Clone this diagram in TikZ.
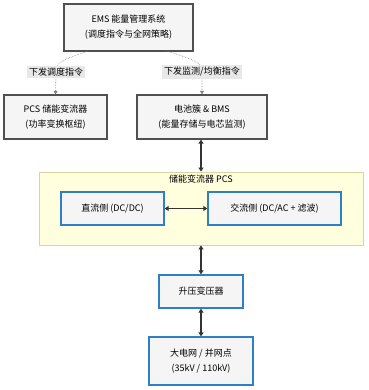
\documentclass[tikz,border=0pt]{standalone}
\usepackage{fontspec}
\setmainfont{Noto Sans CJK SC}
\usepackage{tikz}
\usepackage{xcolor}
\usetikzlibrary{arrows.meta, positioning, calc}
\definecolor{BoxGrey}{HTML}{F5F5F5}
\definecolor{EdgeGrey}{HTML}{505050}
\definecolor{SideBlue}{HTML}{2F7FC8}
\definecolor{PanelYellow}{HTML}{FFFFDE}
\definecolor{PanelEdge}{HTML}{D6D6A0}
\definecolor{TagGrey}{HTML}{E8E8E8}
\definecolor{LinkDark}{HTML}{333333}

\tikzset{
  greybox/.style={draw=EdgeGrey, line width=1.2pt, fill=BoxGrey, align=center, inner sep=0pt},
  bluebox/.style={draw=SideBlue, line width=1.2pt, fill=BoxGrey, align=center, inner sep=0pt},
  tag/.style={fill=TagGrey, inner xsep=2pt, inner ysep=2pt},
  cmdlink/.style={draw=gray, densely dotted, line width=0.6pt, -{Triangle[length=3.5pt,width=4pt]}},
  powerlink/.style={draw=LinkDark, line width=2pt, {Triangle[length=4pt,width=5pt]}-{Triangle[length=4pt,width=5pt]}}
}

\begin{document}
\begin{tikzpicture}[x=1pt, y=-1pt, font=\fontsize{9}{15}\selectfont]
\useasboundingbox (0,0) rectangle (368,390);
% --- control layer ---
\node[greybox, minimum width=129pt, minimum height=47pt] (ems) at (128.5,27.5) {EMS 能量管理系统\\(调度指令与全网策略)};
\node[greybox, minimum width=103pt, minimum height=44pt] (pcs) at (55.5,117) {PCS 储能变流器\\(功率变换枢纽)};
\node[greybox, minimum width=130pt, minimum height=44pt] (bat) at (202,117) {电池簇 \& BMS\\(能量存储与电芯监测)};
\coordinate (emsL) at (88,51);
\coordinate (emsR) at (167,51);
\draw[cmdlink] (emsL) .. controls (62,60) and (56,62) .. (56,72) -- (pcs.north);
\draw[cmdlink] (emsR) .. controls (194,60) and (202,62) .. (202,72) -- (bat.north);
\node[tag] (tagA) at (56,72) {下发调度指令};
\node[tag] (tagB) at (202,72) {下发监测/均衡指令};
% --- PCS subgraph ---
\node[draw=PanelEdge, line width=0.8pt, fill=PanelYellow, minimum width=324pt, minimum height=73pt, inner sep=0pt] (panel) at (201,208.5) {};
\node (panelT) at (201,179) {储能变流器 PCS};
\node[bluebox, minimum width=103pt, minimum height=33pt] (dc) at (112.5,208.5) {直流侧 (DC/DC)};
\node[bluebox, minimum width=133pt, minimum height=33pt] (ac) at (274.5,208.5) {交流侧 (DC/AC + 滤波)};
\draw[powerlink, line width=1.5pt] (dc) -- (ac);
% --- grid side ---
\node[bluebox, minimum width=84pt, minimum height=33pt] (trafo) at (201,291.5) {升压变压器};
\node[bluebox, minimum width=104pt, minimum height=48pt] (grid) at (201,361) {大电网 / 并网点\\(35kV / 110kV)};
\draw[powerlink] (bat.south -| panel.north) -- (panel.north);
\draw[powerlink] (panel.south) -- (trafo.north);
\draw[powerlink] (trafo) -- (grid);
\end{tikzpicture}
\end{document}
